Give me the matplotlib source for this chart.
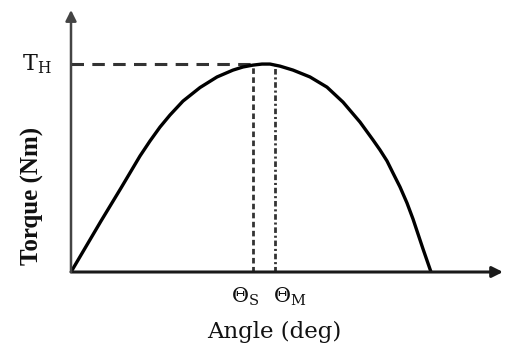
import matplotlib
matplotlib.use("Agg")
import matplotlib.pyplot as plt

# torque-angle curve (angle in arbitrary deg units, torque relative to T_H)
angle = [0.0, 8.33, 13.89, 19.17, 21.94, 24.72, 27.50, 31.11, 35.83, 40.56, 45.0, 47.78,
         50.56, 53.06, 55.28, 58.06, 61.67, 66.39, 71.11, 75.56, 80.28, 83.89, 85.83,
         87.78, 89.44, 91.39, 93.33, 95.0, 96.39, 97.78, 100.0]
torque = [0.0, 0.245, 0.404, 0.558, 0.630, 0.697, 0.755, 0.822, 0.887, 0.938, 0.971, 0.986,
          0.995, 1.0, 1.0, 0.990, 0.971, 0.938, 0.889, 0.817, 0.721, 0.635, 0.587,
          0.534, 0.476, 0.409, 0.332, 0.255, 0.183, 0.111, 0.0]
t_h = 1.0
theta_s = 50.6
theta_m = 56.7

plt.rcParams['lines.scale_dashes'] = False
plt.rcParams['mathtext.fontset'] = 'dejavuserif'

fig = plt.figure(figsize=(5.06, 3.45), dpi=100)
ax = fig.add_axes([71 / 506, 73 / 345, 432 / 506, 262 / 345])
ax.set_xlim(0, 120)
ax.set_ylim(0, 1.26)
ax.axis('off')

# axes drawn as arrows
ax.annotate('', xy=(1, 0), xytext=(0, 0), xycoords='axes fraction',
            arrowprops=dict(arrowstyle='-|>', lw=2.2, color='#1a1a1a', mutation_scale=16,
                            shrinkA=0, shrinkB=0))
ax.annotate('', xy=(0, 1), xytext=(0, 0), xycoords='axes fraction',
            arrowprops=dict(arrowstyle='-|>', lw=1.8, color='#444444', mutation_scale=16,
                            shrinkA=0, shrinkB=0))

# guide lines
ax.plot([0, theta_s], [t_h, t_h], color='#333333', lw=2.2, dashes=(9, 6))
ax.plot([theta_s, theta_s], [0, t_h], color='#333333', lw=2.0, dashes=(4, 2.5))
ax.plot([theta_m, theta_m], [0, t_h], color='#333333', lw=2.0, dashes=(4, 2, 1.5, 2))

ax.plot(angle, torque, color='black', lw=2.4, solid_capstyle='round',
        solid_joinstyle='round')

serif = 'DejaVu Serif'
ax.text(-5.5, t_h, 'T$_\\mathrm{H}$', ha='right', va='center', fontsize=16,
        family=serif, color='#111111')
ax.text(theta_s + 1.6, -0.15, '\u0398$_\\mathrm{S}$', ha='right', va='baseline',
        fontsize=15, family=serif, color='#111111')
ax.text(theta_m - 0.6, -0.15, '\u0398$_\\mathrm{M}$', ha='left', va='baseline',
        fontsize=15, family=serif, color='#111111')
ax.text(56.5, -0.317, 'Angle (deg)', ha='center', va='baseline', fontsize=16.5,
        family=serif, color='#111111')
ax.text(-10.8, 0.365, 'Torque (Nm)', ha='center', va='center', rotation=90,
        fontsize=18, family='Liberation Serif', fontweight='bold', color='#111111')

fig.savefig('out.png', dpi=100)
